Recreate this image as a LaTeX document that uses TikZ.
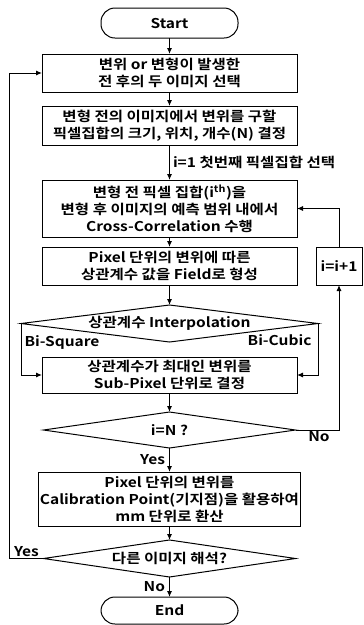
\documentclass[tikz,border=0pt]{standalone}
\usepackage{fontspec}
\setmainfont{Noto Sans CJK KR Bold}[FakeStretch=1.15]
\usetikzlibrary{arrows.meta,positioning,shapes.geometric}

\begin{document}
\begin{tikzpicture}[x=1pt,y=-1pt,
      font=\fontsize{13.5}{17}\selectfont,
      box/.style={draw,line width=1pt,outer sep=0pt,minimum width=255pt,inner sep=1pt,align=center},
      term/.style={draw,line width=1pt,outer sep=0pt,rounded corners=14pt,minimum width=137pt,
                   minimum height=30pt,inner sep=1pt},
      decision/.style={diamond,draw,line width=1pt,outer sep=0pt,inner sep=0pt,minimum height=37pt},
      arr/.style={-{Latex[length=6pt,width=5pt]},line width=1pt},
      tag/.style={inner sep=1pt}]
    \useasboundingbox (0,0) rectangle (364,625);
    \node[term] (start) at (169.5,23) {Start};
    \node[box,minimum height=38pt,below=16pt of start] (pick)
      {변위 or 변형이 발생한\\전 후의 두 이미지 선택};
    \node[box,minimum height=39pt,below=14pt of pick] (grid)
      {변형 전의 이미지에서 변위를 구할\\픽셀집합의 크기, 위치, 개수(N) 결정};
    \node[box,minimum height=57pt,below=35pt of grid] (corr)
      {변형 전 픽셀 집합(i\textsuperscript{th})을\\변형 후 이미지의 예측 범위 내에서\\Cross-Correlation 수행};
    \node[box,minimum height=38pt,below=10pt of corr] (field)
      {Pixel 단위의 변위에 따른\\상관계수 값을 Field로 형성};
    \node[box,minimum width=46pt,minimum height=38pt,right=19pt of field] (incr) {i=i+1};
    \node[decision,minimum width=297pt,below=20pt of field,
          label={center:상관계수 Interpolation}] (interp) {};
    \node[box,minimum height=36pt,below=15pt of interp] (subpix)
      {상관계수가 최대인 변위를\\Sub-Pixel 단위로 결정};
    \node[decision,minimum width=252pt,minimum height=36pt,below=19pt of subpix,
          label={center:i=N ?}] (last) {};
    \node[box,minimum height=54pt,below=24pt of last] (convert)
      {Pixel 단위의 변위를\\Calibration Point(기지점)을 활용하여\\mm 단위로 환산};
    \node[decision,minimum width=252pt,below=14pt of convert,
          label={center:다른 이미지 해석?}] (again) {};
    \node[term,minimum height=27pt,below=20pt of again] (finish) {End};
    % main flow
    \draw[arr] (start) -- (pick);
    \draw[arr] (pick) -- (grid);
    \draw[arr] (grid) -- node[tag,right,xshift=2pt]{i=1 첫번째 픽셀집합 선택} (corr);
    \draw[arr] (corr) -- (field);
    \draw[arr] (field) -- (interp);
    \draw[arr] (interp.west) |- node[tag,right,pos=0.18,xshift=2pt]{Bi-Square} (subpix.west);
    \draw[arr] (interp.east) |- node[tag,left,pos=0.16,xshift=-5pt]{Bi-Cubic} (subpix.east);
    \draw[arr] (subpix) -- (last);
    \draw[arr] (last) -- node[tag,left,xshift=-3pt]{Yes} (convert);
    \draw[arr] (convert) -- (again);
    \draw[arr] (again) -- node[tag,left,xshift=-3pt]{No} (finish);
    % loops
    \draw[arr] (last.east) -| node[tag,below,pos=0.27]{No} (incr.south);
    \draw[arr] (incr.north) |- (corr.east);
    \draw[arr] (again.west) -- node[tag,above]{Yes} ++(-34,0) |- (pick.west);
  \end{tikzpicture}
\end{document}
